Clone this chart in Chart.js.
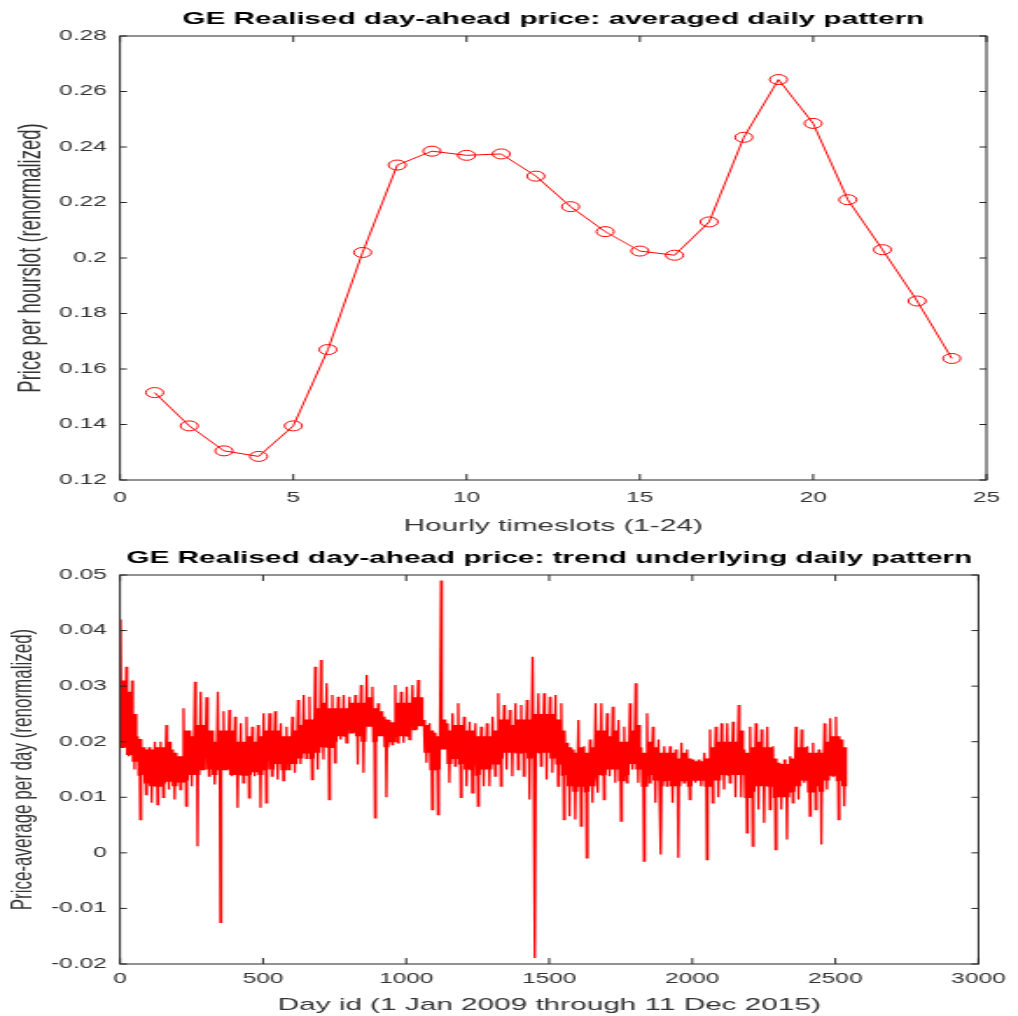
<!DOCTYPE html>
<html>
<head>
<meta charset="utf-8">
<script src="https://cdn.jsdelivr.net/npm/chart.js@4.4.1/dist/chart.umd.min.js"></script>
<style>
  html, body { margin: 0; padding: 0; background: #fff; }
  body { width: 1018px; height: 1016px; overflow: hidden; position: relative; }
  /* the original figure is stretched sideways, so each panel is drawn narrow and scaled */
  .panel { position: absolute; left: 0; width: 582px; transform: scaleX(1.749); transform-origin: 0 0; }
  #top { top: 0; height: 540px; }
  #bottom { top: 540px; height: 476px; }
</style>
</head>
<body>
<div class="panel" id="top"><canvas id="dailyPattern"></canvas></div>
<div class="panel" id="bottom"><canvas id="dailyTrend"></canvas></div>
<script>
'use strict';

// averaged daily pattern (hour slot -> price)
var hours = [1, 2, 3, 4, 5, 6, 7, 8, 9, 10, 11, 12, 13, 14, 15, 16, 17, 18, 19, 20, 21, 22, 23, 24];
var hourPrice = [0.1515, 0.1395, 0.1305, 0.1285, 0.1395, 0.167, 0.202, 0.2335, 0.2385, 0.237, 0.2375, 0.2295,
                 0.2185, 0.2095, 0.2025, 0.201, 0.213, 0.2435, 0.2643, 0.2485, 0.221, 0.203, 0.1845, 0.1638];

// trend per day, read off per 20-day block (day 0 .. 2540):
// the extreme high and low of the block and the top / bottom of its dense core
var binDays = 20;
var trendHigh = [
  0.042, 0.0335, 0.031, 0.021, 0.019, 0.019, 0.020, 0.020, 0.023, 0.0186,
  0.0174, 0.026, 0.022, 0.0308, 0.029, 0.028, 0.022, 0.029, 0.0255, 0.0257,
  0.0245, 0.0233, 0.0245, 0.0227, 0.023, 0.0251, 0.0251, 0.0255, 0.0233, 0.0227,
  0.0245, 0.0275, 0.0284, 0.0281, 0.0335, 0.0347, 0.0305, 0.0284, 0.0281, 0.0284,
  0.0281, 0.0284, 0.0302, 0.032, 0.0299, 0.0269, 0.0245, 0.0239, 0.0302, 0.029,
  0.0299, 0.0302, 0.0311, 0.0239, 0.0233, 0.0216, 0.049, 0.0233, 0.0251, 0.0269,
  0.0245, 0.0236, 0.0233, 0.0227, 0.0233, 0.0245, 0.0287, 0.0266, 0.0257, 0.0269,
  0.0266, 0.0275, 0.0353, 0.0287, 0.0287, 0.0281, 0.0284, 0.0269, 0.0198, 0.0186,
  0.0239, 0.0192, 0.0204, 0.0269, 0.0269, 0.0251, 0.0263, 0.0239, 0.0227, 0.0269,
  0.0305, 0.019, 0.0251, 0.0227, 0.0204, 0.0192, 0.0192, 0.0186, 0.0198, 0.0186,
  0.0168, 0.0168, 0.018, 0.0222, 0.0227, 0.0233, 0.0233, 0.0236, 0.0266, 0.0186,
  0.0227, 0.0233, 0.0222, 0.0227, 0.0192, 0.0162, 0.0168, 0.0174, 0.0227, 0.0222,
  0.0192, 0.0198, 0.0186, 0.0233, 0.0242, 0.0245, 0.0204
];
var trendLow = [
  0.019, 0.0174, 0.015, 0.006, 0.0105, 0.009, 0.0087, 0.010, 0.0114, 0.0096,
  0.0114, 0.0084, 0.012, 0.0012, 0.015, 0.0138, 0.0123, -0.0125, 0.015, 0.0138,
  0.0081, 0.0126, 0.0099, 0.0138, 0.0081, 0.009, 0.0138, 0.0132, 0.013, 0.015,
  0.0144, 0.016, 0.017, 0.0132, 0.015, 0.0168, 0.0096, 0.0162, 0.0204, 0.0198,
  0.0216, 0.0159, 0.0144, 0.0228, 0.0063, 0.021, 0.010, 0.0195, 0.0198, 0.0198,
  0.0204, 0.0222, 0.0228, 0.0162, 0.0078, 0.0069, 0.0186, 0.0126, 0.0156, 0.010,
  0.012, 0.0108, 0.0084, 0.012, 0.012, 0.0138, 0.012, 0.015, 0.0138, 0.015,
  0.0138, 0.0096, -0.0189, 0.0156, 0.0132, 0.0144, 0.012, 0.006, 0.0066, 0.006,
  0.0048, -0.0009, 0.009, 0.0108, 0.0096, 0.0138, 0.0126, 0.0057, 0.0126, 0.015,
  0.0126, -0.0015, 0.0126, 0.009, -0.0003, 0.012, 0.009, -0.0009, 0.0126, 0.0096,
  0.0126, 0.012, -0.0012, 0.009, 0.010, 0.0114, 0.0126, 0.010, 0.010, 0.0036,
  0.0012, 0.0078, 0.0054, 0.0078, 0.0006, 0.0078, 0.0024, 0.009, 0.0096, 0.0126,
  0.0066, 0.0078, 0.0015, 0.0114, 0.0138, 0.006, 0.0084
];
var coreTop = [
  0.031, 0.029, 0.025, 0.0205, 0.0186, 0.0186, 0.019, 0.019, 0.020, 0.018,
  0.0174, 0.022, 0.021, 0.023, 0.023, 0.022, 0.020, 0.022, 0.022, 0.022,
  0.020, 0.020, 0.021, 0.020, 0.021, 0.022, 0.022, 0.022, 0.021, 0.021,
  0.022, 0.023, 0.024, 0.024, 0.026, 0.027, 0.026, 0.026, 0.026, 0.026,
  0.027, 0.027, 0.027, 0.028, 0.026, 0.0255, 0.024, 0.0235, 0.027, 0.027,
  0.027, 0.028, 0.028, 0.023, 0.022, 0.021, 0.024, 0.022, 0.023, 0.023,
  0.022, 0.022, 0.021, 0.021, 0.021, 0.022, 0.024, 0.024, 0.023, 0.024,
  0.024, 0.024, 0.025, 0.025, 0.025, 0.025, 0.024, 0.022, 0.019, 0.018,
  0.019, 0.018, 0.019, 0.022, 0.022, 0.021, 0.022, 0.020, 0.020, 0.022,
  0.023, 0.018, 0.020, 0.019, 0.018, 0.018, 0.018, 0.017, 0.018, 0.017,
  0.0165, 0.0165, 0.017, 0.019, 0.020, 0.020, 0.020, 0.020, 0.022, 0.018,
  0.019, 0.020, 0.019, 0.019, 0.017, 0.016, 0.016, 0.017, 0.019, 0.019,
  0.018, 0.018, 0.018, 0.020, 0.021, 0.021, 0.019
];
var coreBottom = [
  0.019, 0.0176, 0.0164, 0.014, 0.0125, 0.012, 0.012, 0.0125, 0.0128, 0.012,
  0.0128, 0.013, 0.014, 0.014, 0.015, 0.015, 0.014, 0.015, 0.015, 0.014,
  0.014, 0.014, 0.014, 0.0145, 0.014, 0.015, 0.015, 0.016, 0.015, 0.016,
  0.016, 0.017, 0.018, 0.017, 0.018, 0.019, 0.019, 0.020, 0.021, 0.021,
  0.0216, 0.021, 0.020, 0.0228, 0.020, 0.021, 0.019, 0.020, 0.021, 0.021,
  0.021, 0.0222, 0.0228, 0.018, 0.015, 0.015, 0.0186, 0.016, 0.017, 0.016,
  0.015, 0.015, 0.014, 0.015, 0.015, 0.016, 0.017, 0.018, 0.018, 0.018,
  0.018, 0.017, 0.018, 0.018, 0.018, 0.017, 0.016, 0.014, 0.012, 0.011,
  0.012, 0.011, 0.012, 0.014, 0.014, 0.015, 0.015, 0.013, 0.014, 0.016,
  0.015, 0.012, 0.014, 0.013, 0.012, 0.013, 0.012, 0.012, 0.013, 0.012,
  0.013, 0.013, 0.012, 0.013, 0.013, 0.014, 0.014, 0.014, 0.014, 0.010,
  0.011, 0.012, 0.012, 0.012, 0.010, 0.010, 0.010, 0.011, 0.012, 0.013,
  0.011, 0.012, 0.011, 0.013, 0.014, 0.013, 0.012
];

Chart.defaults.font.family = '"Liberation Sans", Arial, sans-serif';
Chart.defaults.color = '#333';
Chart.defaults.animation = false;

// matlab style box with inward ticks on all four sides
var boxTicks = {
  id: 'boxTicks',
  afterDraw: function (chart) {
    var ctx = chart.ctx, a = chart.chartArea,
        xs = chart.scales.x, ys = chart.scales.y;
    ctx.save();
    ctx.strokeStyle = '#262626';
    ctx.lineWidth = 1;
    ctx.strokeRect(a.left, a.top, a.right - a.left, a.bottom - a.top);
    ctx.beginPath();
    xs.ticks.forEach(function (t) {
      var px = xs.getPixelForValue(t.value);
      ctx.moveTo(px, a.bottom); ctx.lineTo(px, a.bottom - 6);
      ctx.moveTo(px, a.top); ctx.lineTo(px, a.top + 6);
    });
    ys.ticks.forEach(function (t) {
      var py = ys.getPixelForValue(t.value);
      ctx.moveTo(a.left, py); ctx.lineTo(a.left + 4, py);
      ctx.moveTo(a.right, py); ctx.lineTo(a.right - 4, py);
    });
    ctx.stroke();
    ctx.restore();
  }
};

function axisTitle(text, size, pad) {
  return { display: true, text: text, color: '#333', font: { size: size }, padding: pad };
}

function plainNumber(v) {
  return String(parseFloat(Number(v).toFixed(4)));
}

// top chart
var patternData = hours.map(function (h, i) { return { x: h, y: hourPrice[i] }; });

new Chart(document.getElementById('dailyPattern'), {
    type: 'line',
    data: {
        datasets: [{
            data: patternData,
            borderColor: '#ff0000',
            borderWidth: 1,
            pointStyle: 'circle',
            pointRadius: 5,
            pointBorderWidth: 1,
            pointBorderColor: '#ff0000',
            pointBackgroundColor: 'rgba(0,0,0,0)',
            tension: 0
        }]
    },
    options: {
        responsive: true,
        maintainAspectRatio: false,
        layout: { padding: { left: 0, right: 18, top: 2.6, bottom: 0 } },
        plugins: {
            legend: { display: false },
            tooltip: { enabled: false },
            title: {
                display: true,
                fullSize: false,
                text: 'GE Realised day-ahead price: averaged daily pattern',
                color: '#000',
                font: { size: 17, weight: 'bold' },
                padding: { top: 7, bottom: 6 }
            }
        },
        scales: {
            x: {
                type: 'linear', min: 0, max: 25,
                grid: { display: false, drawTicks: false },
                border: { display: false },
                ticks: { stepSize: 5, padding: 9.6, font: { size: 14 }, maxRotation: 0, callback: plainNumber },
                title: axisTitle('Hourly timeslots (1-24)', 17, { top: 0, bottom: 3.1 }),
                afterFit: function (scale) { scale.height = 60; }
            },
            y: {
                min: 0.12, max: 0.28,
                grid: { display: false, drawTicks: false },
                border: { display: false },
                ticks: { stepSize: 0.02, padding: 7.5, font: { size: 14 }, callback: plainNumber },
                title: axisTitle('Price per hourslot (renormalized)', 18.5, { top: 6.6, bottom: 0 }),
                afterFit: function (scale) { scale.width = 68.6; }
            }
        }
    },
    plugins: [boxTicks]
});

// bottom chart: each block runs high, core, low and back through the core
var trendData = [];
trendHigh.forEach(function (v, i) {
    var d = i * binDays;
    trendData.push({ x: d + 2, y: v });
    trendData.push({ x: d + 5, y: coreBottom[i] });
    trendData.push({ x: d + 8, y: coreTop[i] });
    trendData.push({ x: d + 11, y: trendLow[i] });
    trendData.push({ x: d + 14, y: coreTop[i] });
    trendData.push({ x: d + 17, y: coreBottom[i] });
});

new Chart(document.getElementById('dailyTrend'), {
    type: 'line',
    data: {
        datasets: [{
            data: trendData,
            borderColor: '#ff0000',
            borderWidth: 1.3,
            pointRadius: 0,
            tension: 0
        }]
    },
    options: {
        responsive: true,
        maintainAspectRatio: false,
        layout: { padding: { left: 0, right: 18, top: 0, bottom: 0 } },
        plugins: {
            legend: { display: false },
            tooltip: { enabled: false },
            title: {
                display: true,
                fullSize: false,
                text: 'GE Realised day-ahead price: trend underlying daily pattern',
                color: '#000',
                font: { size: 17, weight: 'bold' },
                padding: { top: 7.8, bottom: 6.8 }
            }
        },
        scales: {
            x: {
                type: 'linear', min: 0, max: 3000,
                grid: { display: false, drawTicks: false },
                border: { display: false },
                ticks: { stepSize: 500, padding: 7, font: { size: 14 }, maxRotation: 0, callback: plainNumber },
                title: axisTitle('Day id (1 Jan 2009 through 11 Dec 2015)', 17, { top: 0, bottom: 0 }),
                afterFit: function (scale) { scale.height = 52; }
            },
            y: {
                min: -0.02, max: 0.05,
                grid: { display: false, drawTicks: false },
                border: { display: false },
                ticks: { stepSize: 0.01, padding: 7.5, font: { size: 14 }, callback: plainNumber },
                title: axisTitle('Price-average per day (renormalized)', 17, { top: 2.7, bottom: 0 }),
                afterFit: function (scale) { scale.width = 68.6; }
            }
        }
    },
    plugins: [boxTicks]
});
</script>
</body>
</html>
